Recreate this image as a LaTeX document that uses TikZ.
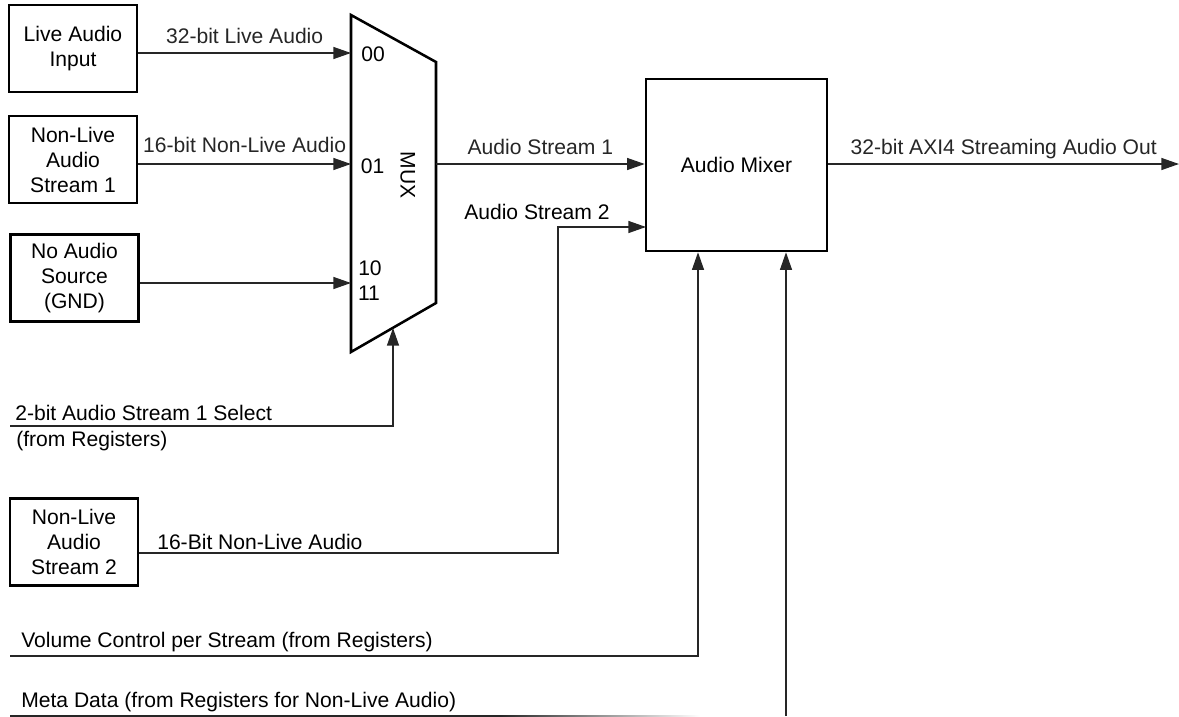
\documentclass[tikz,border=0pt]{standalone}
\usepackage{fontspec}
\setmainfont{Liberation Sans}
\usetikzlibrary{arrows.meta}

\begin{document}
\begin{tikzpicture}[x=0.025cm,y=-0.025cm,
  font=\fontsize{15}{17.8}\selectfont,
  srcbox/.style={draw,line width=1.8pt,align=center,inner sep=0pt,minimum width=3.2cm,minimum height=2.175cm},
  wire/.style={line width=0.9pt,black!85},
  arr/.style={wire,-{Triangle[length=12.5pt,width=8.5pt]}},
  lbl/.style={inner sep=0pt,text depth=0pt}]
\useasboundingbox (0,0) rectangle (1179,717);

\node[srcbox] (live) at (73,48.5) {Live Audio\\Input};
\node[srcbox] (nonlive1) at (73,159.5) {Non-Live\\Audio\\Stream 1};
\node[srcbox] (noaudio) at (74.5,278) {No Audio\\Source\\(GND)};
\node[srcbox] (nonlive2) at (74,542) {Non-Live\\Audio\\Stream 2};
\node[srcbox,minimum width=4.525cm,minimum height=4.3cm] (mixer) at (736.5,165) {Audio Mixer};

% mux
\draw[line width=1.8pt,line join=miter] (351,15) -- (436,62) -- (436,303) -- (351,352) -- cycle;
\coordinate (m00) at (351,53);
\coordinate (m01) at (351,164);
\coordinate (m10) at (351,283);
\coordinate (msel) at (393,328);
\coordinate (mout) at (436,164);
\node[lbl] at (373,54) {00};
\node[lbl] at (372.5,166) {01};
\node[lbl] at (370,268) {10};
\node[lbl] at (369,293) {11};
\node[lbl,rotate=-90] at (408,175) {MUX};

\draw[arr] (live.east |- m00) -- node[midway,above=6pt,lbl] {32-bit Live Audio} (m00);
\draw[arr] (nonlive1.east |- m01) -- node[midway,above=8pt,lbl] {16-bit Non-Live Audio} (m01);
\draw[arr] (noaudio.east |- m10) -- (m10);

\coordinate (selL) at (10,426);
\draw[arr] (selL) -| (msel);
\node[lbl,anchor=base west] at (15,420.5) {2-bit Audio Stream 1 Select};
\node[lbl,anchor=base west] at (16,446) {(from Registers)};

\draw[arr] (mout) -- node[midway,above=6pt,lbl] {Audio Stream 1} (mout -| mixer.west);

\coordinate (s2) at (558,553);
\coordinate (s2in) at (646,227);
\draw[arr] (nonlive2.east |- s2) -- (s2) |- (s2in);
\node[lbl,anchor=base west] at (157,549.5) {16-Bit Non-Live Audio};
\node[lbl,anchor=base west] at (464,219.5) {Audio Stream 2};

\coordinate (outR) at (1179,164);
\draw[arr] (mixer.east |- mout) -- node[midway,above=6pt,lbl] {32-bit AXI4 Streaming Audio Out} (outR);

\coordinate (volL) at (10,656);
\coordinate (volR) at (698,656);
\draw[arr] (volL) -- (volR) -- (volR |- mixer.south);
\node[lbl,anchor=base west] at (21,647) {Volume Control per Stream (from Registers)};

\coordinate (metaL) at (10,716);
\coordinate (metaF) at (500,716);
\coordinate (metaR) at (786,716);
\draw[wire] (metaL) -- (metaF);
\shade[left color=black!85,right color=white] (500,715.4) rectangle (700,716.6);
\draw[arr] (metaR) -- (metaR |- mixer.south);
\node[lbl,anchor=base west] at (21,707) {Meta Data (from Registers for Non-Live Audio)};
\end{tikzpicture}
\end{document}
